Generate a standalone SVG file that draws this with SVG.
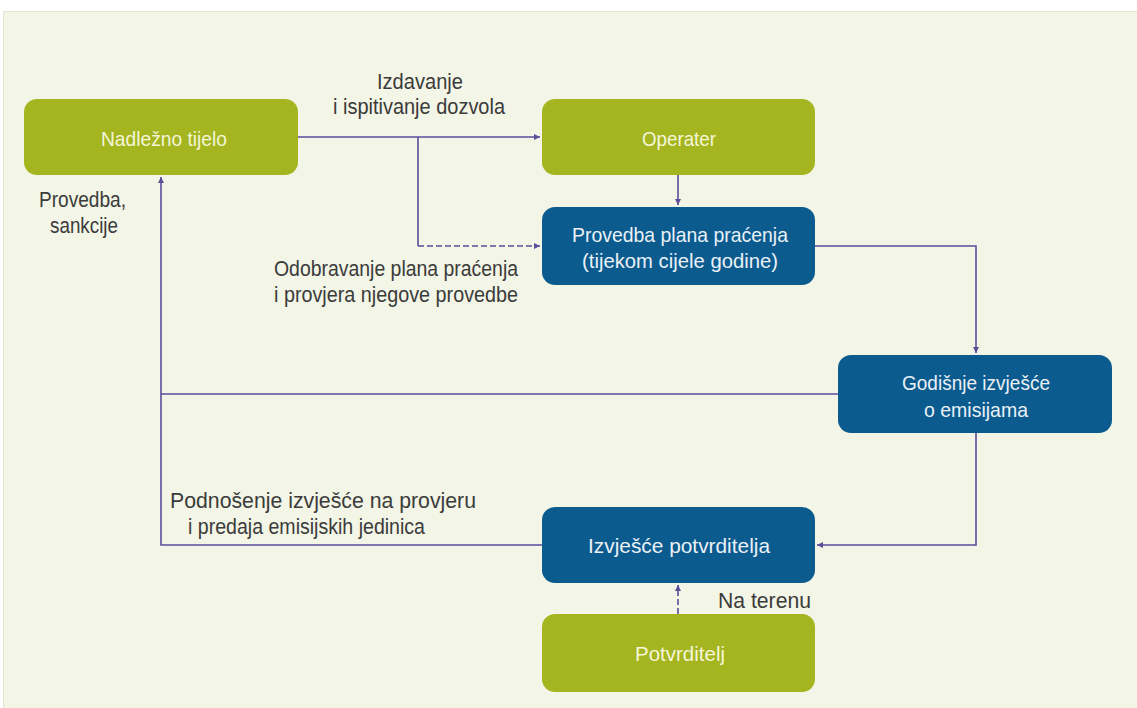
<svg xmlns="http://www.w3.org/2000/svg" width="1137" height="708" viewBox="0 0 1137 708">
<style>
.bg{fill:#f3f5e6;stroke:#e2e4d6;stroke-width:1}
.g{fill:#a4b520}
.b{fill:#0b5b8e}
.nt{font-family:"Liberation Sans",Arial,sans-serif;font-size:21px;text-anchor:middle}
.gt{fill:#f4f6d8}
.bt{fill:#eaf1f6}
.lb{font-family:"Liberation Sans",Arial,sans-serif;font-size:22px;fill:#3b3b3b}
.c{fill:none;stroke:#5b4c9c;stroke-width:1.6}
.d{stroke-dasharray:6 3}
</style>
<defs>
<marker id="ah" viewBox="0 0 10 10" refX="10" refY="5" markerWidth="6" markerHeight="6" orient="auto" markerUnits="userSpaceOnUse">
<path d="M0,0 L10,5 L0,10 z" fill="#5b4c9c"/>
</marker>
</defs>
<rect class="bg" x="3.5" y="11.5" width="1140" height="700"/>
<g id="connectors">
<path class="c" d="M298,137 H540" marker-end="url(#ah)"/>
<path class="c" d="M418,137 V246"/>
<path class="c d" d="M418,246 H540" marker-end="url(#ah)"/>
<path class="c" d="M678,175 V205" marker-end="url(#ah)"/>
<path class="c" d="M815,246 H976 V353" marker-end="url(#ah)"/>
<path class="c" d="M838,394 H161"/>
<path class="c" d="M542,545 H161 V177" marker-end="url(#ah)"/>
<path class="c" d="M976,433 V545 H817" marker-end="url(#ah)"/>
<path class="c d" d="M678,614 V585" marker-end="url(#ah)"/>
</g>
<g id="n-nadlezno">
<rect class="g" x="24" y="99" width="274" height="76" rx="13"/>
<text class="nt gt" x="164" y="146" textLength="126" lengthAdjust="spacingAndGlyphs">Nadležno tijelo</text>
</g>
<g id="n-operater">
<rect class="g" x="542" y="99" width="273" height="76" rx="13"/>
<text class="nt gt" x="679" y="146" textLength="74" lengthAdjust="spacingAndGlyphs">Operater</text>
</g>
<g id="n-provedba">
<rect class="b" x="542" y="207" width="273" height="78" rx="13"/>
<text class="nt bt" x="680" y="242" textLength="216" lengthAdjust="spacingAndGlyphs">Provedba plana praćenja</text>
<text class="nt bt" x="680" y="268" textLength="196" lengthAdjust="spacingAndGlyphs">(tijekom cijele godine)</text>
</g>
<g id="n-godisnje">
<rect class="b" x="838" y="355" width="274" height="78" rx="13"/>
<text class="nt bt" x="976" y="390" textLength="148" lengthAdjust="spacingAndGlyphs">Godišnje izvješće</text>
<text class="nt bt" x="976" y="417" textLength="104" lengthAdjust="spacingAndGlyphs">o emisijama</text>
</g>
<g id="n-izvjesce">
<rect class="b" x="542" y="507" width="273" height="76" rx="13"/>
<text class="nt bt" x="679" y="553" textLength="182" lengthAdjust="spacingAndGlyphs">Izvješće potvrditelja</text>
</g>
<g id="n-potvrditelj">
<rect class="g" x="542" y="614" width="273" height="78" rx="13"/>
<text class="nt gt" x="680" y="661" textLength="90" lengthAdjust="spacingAndGlyphs">Potvrditelj</text>
</g>
<g id="labels">
<text class="lb" x="377" y="89" textLength="86" lengthAdjust="spacingAndGlyphs">Izdavanje</text>
<text class="lb" x="333" y="114" textLength="172" lengthAdjust="spacingAndGlyphs">i ispitivanje dozvola</text>
<text class="lb" x="39" y="207" textLength="87" lengthAdjust="spacingAndGlyphs">Provedba,</text>
<text class="lb" x="50" y="233" textLength="68" lengthAdjust="spacingAndGlyphs">sankcije</text>
<text class="lb" x="274" y="276" textLength="244" lengthAdjust="spacingAndGlyphs">Odobravanje plana praćenja</text>
<text class="lb" x="274" y="302" textLength="244" lengthAdjust="spacingAndGlyphs">i provjera njegove provedbe</text>
<text class="lb" x="170" y="508" textLength="306" lengthAdjust="spacingAndGlyphs">Podnošenje izvješće na provjeru</text>
<text class="lb" x="188" y="534" textLength="237" lengthAdjust="spacingAndGlyphs">i predaja emisijskih jedinica</text>
<text class="lb" x="718" y="608" textLength="93" lengthAdjust="spacingAndGlyphs">Na terenu</text>
</g>
</svg>
